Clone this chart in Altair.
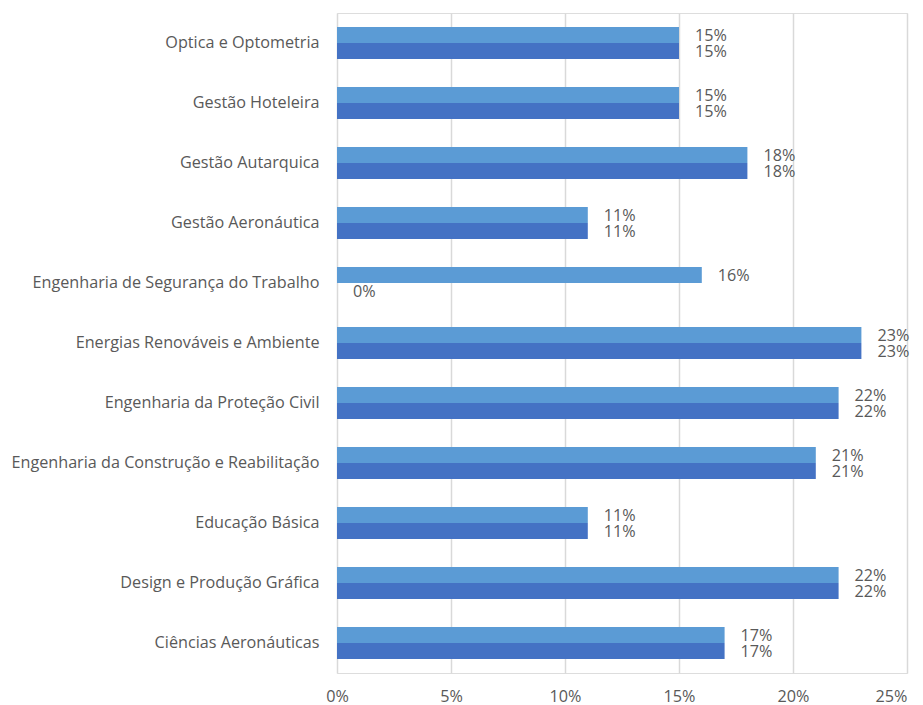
import altair as alt
import pandas as pd

categories = [
    "Optica e Optometria",
    "Gestão Hoteleira",
    "Gestão Autarquica",
    "Gestão Aeronáutica",
    "Engenharia de Segurança do Trabalho",
    "Energias Renováveis e Ambiente",
    "Engenharia da Proteção Civil",
    "Engenharia da Construção e Reabilitação",
    "Educação Básica",
    "Design e Produção Gráfica",
    "Ciências Aeronáuticas",
]
series_names = ["Série 1", "Série 2"]
series1 = [15, 15, 18, 11, 16, 23, 22, 21, 11, 22, 17]
series2 = [15, 15, 18, 11, 0, 23, 22, 21, 11, 22, 17]
colors = ["#5B9BD5", "#4472C4"]
x_ticks = [0, 0.05, 0.10, 0.15, 0.20, 0.25]

rows = []
for c, a, b in zip(categories, series1, series2):
    rows.append({"cat": c, "serie": series_names[0], "v": a / 100})
    rows.append({"cat": c, "serie": series_names[1], "v": b / 100})
df = pd.DataFrame(rows)

FONT = "Open Sans"
FS = 16.2
LC = "#595959"

y = alt.Y("cat:N", sort=categories, title=None,
          scale=alt.Scale(paddingInner=0.467, paddingOuter=0.2335),
          axis=alt.Axis(ticks=False, domain=False, grid=False, labelFontSize=FS,
                        labelColor=LC, labelFont=FONT, labelPadding=18, labelLimit=400))
x = alt.X("v:Q", title=None,
          scale=alt.Scale(domain=[0, 0.25], nice=False),
          axis=alt.Axis(format=".0%", values=x_ticks,
                        ticks=False, domain=False, grid=True, gridColor="#D9D9D9",
                        gridWidth=1.5, labelFontSize=FS, labelColor=LC, labelFont=FONT,
                        labelPadding=15, labelFlush=False, labelBound=False,
                        labelAlign=alt.expr("datum.value >= 0.25 ? 'right' : 'center'")))
yoff = alt.YOffset("serie:N", sort=series_names, scale=alt.Scale(paddingInner=0, paddingOuter=0))

bars = alt.Chart(df).mark_bar().encode(
    y=y, x=x, yOffset=yoff,
    color=alt.Color("serie:N", scale=alt.Scale(domain=series_names, range=colors), legend=None),
)
labels = alt.Chart(df).mark_text(align="left", baseline="middle", dx=16, dy=1, fontSize=FS,
                                 font=FONT, color=LC).encode(
    y=y, x=x, yOffset=yoff, text=alt.Text("v:Q", format=".0%"),
)

chart = alt.layer(bars, labels).properties(
    width=570, height=660,
    autosize=alt.AutoSizeParams(type="none"),
    padding={"left": 329, "top": 5, "right": 8, "bottom": 34},
).configure_view(stroke=None).configure(background="white")

chart.save("out.html", embed_options={"renderer": "svg", "actions": False})
